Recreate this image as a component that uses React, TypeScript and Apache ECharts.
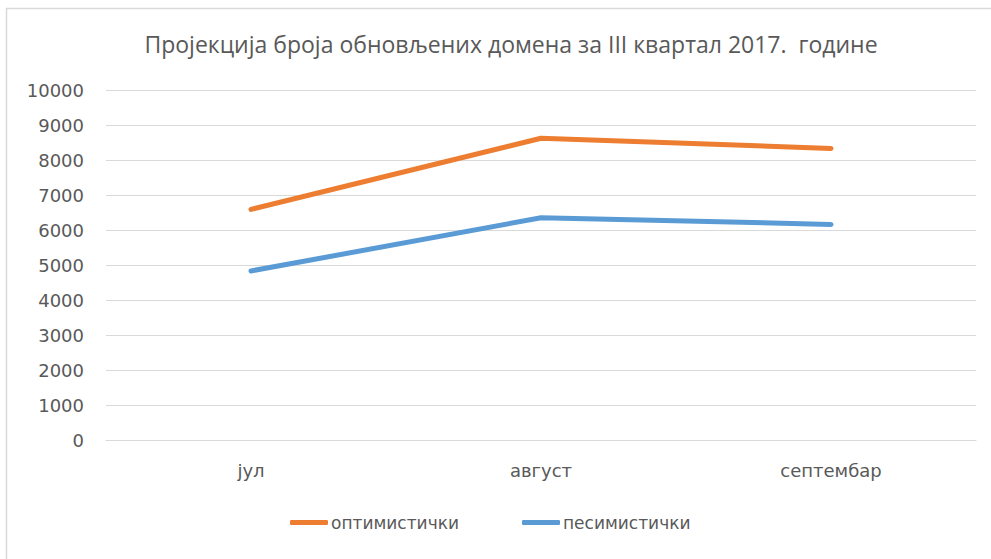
import React, { useEffect, useRef } from "react";
import * as echarts from "echarts";

const titleText = "Пројекција броја обновљених домена за III квартал 2017.  године";
const categories = ["јул", "август", "септембар"];
const optimistic = [6590, 8620, 8330];
const pessimistic = [4830, 6350, 6160];
const seriesNames = ["оптимистички", "песимистички"];

export default function App() {
  const ref = useRef<HTMLDivElement>(null);
  useEffect(() => {
    document.body.style.margin = "0";
    const chart = echarts.init(ref.current!, null, { renderer: "svg" });
    const txt = "#595959";
    const font = "DejaVu Sans";
    chart.setOption({
      animation: false,
      backgroundColor: "#ffffff",
      title: {
        text: titleText,
        left: 506,
        textAlign: "center",
        top: 27,
        textStyle: { color: txt, fontSize: 23, fontWeight: "normal", fontFamily: "Open Sans" },
      },
      graphic: [
        {
          type: "polyline",
          shape: { points: [[6.5, 559], [6.5, 8.5], [991, 8.5]] },
          style: { stroke: "#d9d9d9", lineWidth: 1.5, fill: "none" },
          silent: true,
        },
      ],
      legend: {
        bottom: 23,
        left: 285,
        itemWidth: 38,
        itemHeight: 5,
        itemGap: 63,
        icon: "roundRect",
        textStyle: { color: txt, fontSize: 17, fontFamily: font, padding: [0, 0, 0, -2] },
        data: seriesNames,
      },
      grid: { left: 106, right: 15, top: 90, bottom: 119, containLabel: false },
      xAxis: {
        type: "category",
        data: categories,
        boundaryGap: true,
        axisLine: { show: true, lineStyle: { color: "#d9d9d9", width: 1 } },
        axisTick: { show: false },
        axisLabel: { color: txt, fontSize: 18, fontFamily: font, margin: 21 },
      },
      yAxis: {
        type: "value",
        min: 0,
        max: 10000,
        interval: 1000,
        axisLine: { show: false },
        axisTick: { show: false },
        axisLabel: {
          color: txt,
          fontSize: 18,
          fontFamily: font,
          margin: 22,
          formatter: (v: number) => String(v),
        },
        splitLine: { lineStyle: { color: "#d9d9d9", width: 1 } },
      },
      series: [
        {
          name: seriesNames[0],
          type: "line",
          data: optimistic,
          showSymbol: false,
          symbol: "none",
          lineStyle: { color: "#ED7D31", width: 5, cap: "round", join: "round" },
          itemStyle: { color: "#ED7D31" },
        },
        {
          name: seriesNames[1],
          type: "line",
          data: pessimistic,
          showSymbol: false,
          symbol: "none",
          lineStyle: { color: "#5B9BD5", width: 5, cap: "round", join: "round" },
          itemStyle: { color: "#5B9BD5" },
        },
      ],
    });
    return () => chart.dispose();
  }, []);
  return (
    <div
      ref={ref}
      style={{ position: "absolute", left: 0, top: 0, width: 991, height: 559 }}
    />
  );
}
